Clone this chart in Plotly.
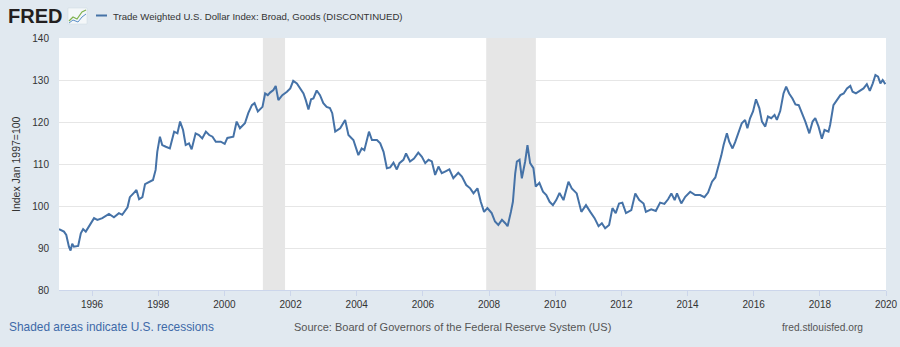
import plotly.graph_objects as go
from datetime import datetime, timedelta

# Decimal-year positions and index values
year_frac = [
    1995.00, 1995.15, 1995.22, 1995.30, 1995.35, 1995.40, 1995.45, 1995.58, 1995.66, 1995.73,
    1995.81, 1995.91, 1996.06, 1996.16, 1996.31, 1996.51, 1996.66, 1996.81, 1996.91, 1997.07,
    1997.14, 1997.27, 1997.34, 1997.42, 1997.52, 1997.60, 1997.72, 1997.84, 1997.92, 1997.97,
    1998.05, 1998.12, 1998.23, 1998.35, 1998.48, 1998.58, 1998.66, 1998.75, 1998.83, 1998.93,
    1999.01, 1999.13, 1999.23, 1999.33, 1999.44, 1999.54, 1999.64, 1999.74, 1999.89, 2000.01,
    2000.09, 2000.27, 2000.37, 2000.47, 2000.62, 2000.72, 2000.83, 2000.91, 2001.01, 2001.15,
    2001.23, 2001.31, 2001.38, 2001.48, 2001.55, 2001.63, 2001.75, 2001.89, 2001.99, 2002.08,
    2002.19, 2002.29, 2002.39, 2002.46, 2002.54, 2002.62, 2002.69, 2002.79, 2002.89, 2002.99,
    2003.09, 2003.19, 2003.26, 2003.35, 2003.50, 2003.65, 2003.75, 2003.90, 2004.05, 2004.15,
    2004.23, 2004.37, 2004.46, 2004.61, 2004.71, 2004.81, 2004.91, 2005.01, 2005.11, 2005.21,
    2005.29, 2005.41, 2005.49, 2005.61, 2005.73, 2005.86, 2005.97, 2006.07, 2006.17, 2006.27,
    2006.37, 2006.47, 2006.57, 2006.67, 2006.80, 2006.92, 2007.07, 2007.18, 2007.31, 2007.43,
    2007.53, 2007.65, 2007.75, 2007.85, 2007.95, 2008.08, 2008.18, 2008.28, 2008.39, 2008.49,
    2008.56, 2008.66, 2008.72, 2008.79, 2008.84, 2008.92, 2008.99, 2009.09, 2009.16, 2009.24,
    2009.34, 2009.41, 2009.52, 2009.63, 2009.73, 2009.83, 2009.93, 2010.03, 2010.13, 2010.25,
    2010.40, 2010.50, 2010.65, 2010.79, 2010.93, 2011.06, 2011.19, 2011.31, 2011.41, 2011.51,
    2011.63, 2011.73, 2011.83, 2011.93, 2012.03, 2012.14, 2012.30, 2012.42, 2012.54, 2012.67,
    2012.74, 2012.90, 2013.04, 2013.17, 2013.30, 2013.41, 2013.51, 2013.61, 2013.68, 2013.81,
    2013.93, 2014.08, 2014.23, 2014.38, 2014.51, 2014.62, 2014.74, 2014.84, 2014.94, 2015.02,
    2015.09, 2015.19, 2015.26, 2015.36, 2015.44, 2015.54, 2015.64, 2015.74, 2015.81, 2015.89,
    2015.98, 2016.07, 2016.17, 2016.25, 2016.35, 2016.43, 2016.53, 2016.63, 2016.70, 2016.80,
    2016.90, 2016.98, 2017.07, 2017.17, 2017.26, 2017.36, 2017.46, 2017.56, 2017.68, 2017.78,
    2017.86, 2017.96, 2018.06, 2018.14, 2018.26, 2018.31, 2018.41, 2018.52, 2018.62, 2018.72,
    2018.82, 2018.92, 2018.99, 2019.09, 2019.22, 2019.32, 2019.42, 2019.51, 2019.60, 2019.68,
    2019.76, 2019.83, 2019.90, 2019.98,
]
index_values = [
    94.5, 93.9, 93.1, 90.3, 89.4, 91.0, 90.3, 90.5, 93.5, 94.5,
    93.9, 95.1, 97.1, 96.7, 97.1, 98.1, 97.3, 98.3, 97.9, 99.7,
    102.1, 103.2, 103.8, 101.6, 102.1, 105.2, 105.8, 106.2, 108.6, 112.9,
    116.5, 114.5, 114.1, 113.7, 117.7, 117.3, 120.1, 118.1, 114.5, 114.9,
    113.5, 117.3, 116.9, 116.1, 117.7, 116.9, 116.5, 115.3, 115.3, 114.8,
    116.2, 116.5, 120.1, 118.5, 119.7, 122.1, 124.0, 124.5, 122.5, 123.6,
    126.8, 126.4, 127.0, 127.6, 128.6, 125.2, 126.4, 127.2, 128.0, 129.8,
    129.2, 128.0, 126.8, 125.2, 123.0, 125.4, 125.6, 127.5, 126.4, 124.5,
    123.6, 123.3, 122.1, 117.7, 118.5, 120.5, 116.9, 115.7, 112.1, 113.7,
    113.3, 117.7, 115.7, 115.7, 114.9, 112.9, 109.0, 109.2, 110.3, 108.7,
    110.2, 111.0, 112.5, 110.6, 111.3, 112.7, 111.7, 110.2, 111.0, 110.6,
    107.4, 109.4, 107.8, 108.2, 108.7, 106.6, 107.9, 107.0, 105.0, 104.2,
    103.0, 104.2, 101.0, 98.6, 99.5, 98.3, 96.3, 95.5, 96.7, 95.9,
    95.2, 98.6, 101.0, 107.8, 110.6, 111.0, 106.6, 110.6, 114.5, 110.2,
    109.0, 104.6, 105.5, 103.4, 102.6, 101.0, 100.2, 101.4, 103.1, 101.4,
    105.8, 104.2, 103.0, 98.6, 100.2, 98.6, 97.1, 95.2, 95.9, 94.7,
    95.5, 99.5, 98.3, 100.6, 100.8, 98.3, 99.0, 103.0, 101.4, 100.6,
    98.6, 99.2, 98.8, 100.8, 100.5, 101.6, 103.0, 101.4, 103.0, 100.6,
    102.2, 103.4, 102.6, 102.6, 102.1, 103.2, 105.8, 106.8, 109.6, 112.0,
    114.5, 117.3, 115.3, 113.7, 115.2, 117.3, 119.7, 120.5, 118.5, 120.9,
    122.5, 125.4, 123.3, 120.1, 118.9, 121.3, 120.9, 121.7, 120.5, 122.6,
    126.8, 128.4, 126.8, 125.6, 124.2, 124.0, 122.1, 120.1, 117.3, 120.1,
    120.9, 118.9, 116.0, 118.1, 117.7, 119.3, 124.0, 125.2, 126.4, 126.8,
    128.0, 128.6, 127.2, 126.8, 127.4, 128.0, 129.0, 127.4, 129.2, 131.2,
    130.8, 129.2, 130.0, 129.0,
]

recession_start = ["2001-03-01", "2007-12-01"]
recession_end = ["2001-11-01", "2009-06-01"]

y_ticks = [80, 90, 100, 110, 120, 130, 140]
series_name = "Trade Weighted U.S. Dollar Index: Broad, Goods (DISCONTINUED)"
y_title = "Index Jan 1997=100"


def to_date(y):
    yi = int(y)
    start = datetime(yi, 1, 1)
    days = (datetime(yi + 1, 1, 1) - start).days
    return start + timedelta(days=(y - yi) * days)


dates = [to_date(y) for y in year_frac]

FONT = "Liberation Sans, Arial, sans-serif"
fig = go.Figure()
fig.add_trace(go.Scatter(x=dates, y=index_values, mode="lines",
                         line=dict(color="#4572a7", width=2), hoverinfo="x+y",
                         showlegend=False))

for s, e in zip(recession_start, recession_end):
    fig.add_shape(type="rect", xref="x", yref="paper", x0=s, x1=e, y0=0, y1=1,
                  fillcolor="#e6e6e6", line=dict(width=0), layer="below")

fig.update_layout(
    width=900, height=347,
    margin=dict(l=59, r=14, t=38, b=57, autoexpand=False),
    paper_bgcolor="#e1e9f0", plot_bgcolor="#ffffff",
    font=dict(family=FONT, size=10, color="#333333"),
    xaxis=dict(type="date", range=["1995-01-01", "2020-01-01"],
               tick0="1996-01-01", dtick="M24", tickformat="%Y",
               showgrid=False, ticks="outside", ticklen=5, tickcolor="#ccd6eb",
               showline=True, linecolor="#ccd6eb", linewidth=1, automargin=False,
               tickfont=dict(size=10, color="#333333"), zeroline=False),
    yaxis=dict(range=[80, 140], tickvals=y_ticks, showgrid=True,
               gridcolor="#e6e6e6", gridwidth=1, zeroline=False, automargin=False,
               ticks="", ticklabelstandoff=9,
               tickfont=dict(size=10, color="#333333")),
)

# y axis title
fig.add_annotation(text=y_title, xref="paper", yref="paper", x=-0.052, y=0.5,
                   xanchor="center", yanchor="middle", textangle=-90, showarrow=False,
                   font=dict(size=10.5, color="#333333", family=FONT))

px = lambda v: (v - 59) / 827
py = lambda v: (290 - v) / 252

# Header: FRED logo, icon, legend
fig.add_annotation(text="<b>FRED</b>", xref="paper", yref="paper",
                   x=px(6), y=py(16), xanchor="left", yanchor="middle",
                   showarrow=False, font=dict(size=20, color="#231f20", family=FONT))
fig.add_shape(type="rect", xref="paper", yref="paper", x0=px(68), x1=px(87),
              y0=py(24), y1=py(8), fillcolor="#f4f7f9", line=dict(color="#cfd8e0", width=0.5),
              layer="above")
fig.add_shape(type="path", xref="paper", yref="paper",
              path=f"M {px(69)} {py(21)} L {px(73)} {py(17)} L {px(77)} {py(19)} L {px(82)} {py(12)} L {px(86)} {py(10)}",
              line=dict(color="#7fb24e", width=1.2), layer="above")
fig.add_shape(type="path", xref="paper", yref="paper",
              path=f"M {px(69)} {py(23)} L {px(73)} {py(20)} L {px(78)} {py(22)} L {px(82)} {py(17)} L {px(86)} {py(14)}",
              line=dict(color="#5b8fc7", width=1), layer="above")
fig.add_shape(type="line", xref="paper", yref="paper", x0=px(96), x1=px(107),
              y0=py(15.5), y1=py(15.5), line=dict(color="#4572a7", width=2), layer="above")
fig.add_annotation(text=series_name, xref="paper", yref="paper", x=px(111), y=py(16),
                   xanchor="left", yanchor="middle", showarrow=False,
                   font=dict(size=9.6, color="#333333", family=FONT))

# Footer
fig.add_annotation(text="Shaded areas indicate U.S. recessions", xref="paper", yref="paper",
                   x=px(7), y=py(327), xanchor="left", yanchor="middle", showarrow=False,
                   font=dict(size=11.9, color="#3e6aa8", family=FONT))
fig.add_annotation(text="Source: Board of Governors of the Federal Reserve System (US)",
                   xref="paper", yref="paper", x=px(292), y=py(327), xanchor="left",
                   yanchor="middle", showarrow=False,
                   font=dict(size=11, color="#555555", family=FONT))
fig.add_annotation(text="fred.stlouisfed.org", xref="paper", yref="paper", x=px(780),
                   y=py(327), xanchor="left", yanchor="middle", showarrow=False,
                   font=dict(size=10.2, color="#555555", family=FONT))

fig.write_html("out.html")
